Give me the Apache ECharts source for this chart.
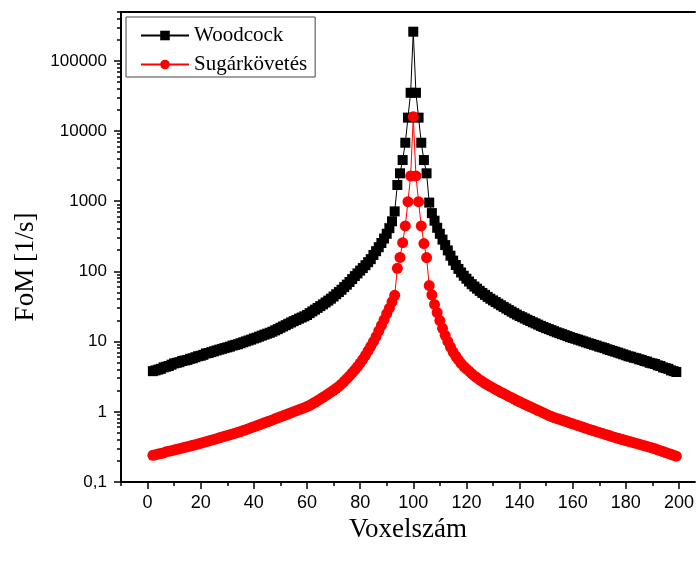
<!DOCTYPE html>
<html>
<head>
<meta charset="utf-8">
<script src="https://cdn.jsdelivr.net/npm/echarts@6/dist/echarts.min.js"></script>
<style>
  html, body { margin: 0; padding: 0; background: #fff; }
  #chart { width: 697px; height: 561px; }
</style>
</head>
<body>
<div id="chart"></div>
<script>
// Voxel indices along the line of voxels
const voxel = Array.from({ length: 198 }, (_, i) => i + 2);

// Figure of merit per voxel, Woodcock tracking
const woodcock = [
  3.8, 3.9, 4.0, 4.1, 4.3, 4.4, 4.5, 4.7, 4.9, 5.0,
  5.1, 5.3, 5.4, 5.5, 5.7, 5.8, 6.0, 6.2, 6.3, 6.5,
  6.8, 6.9, 7.1, 7.3, 7.5, 7.7, 7.9, 8.1, 8.3, 8.5,
  8.8, 9.0, 9.2, 9.5, 9.8, 10.1, 10.4, 10.7, 11.1, 11.4,
  11.8, 12.2, 12.6, 13.0, 13.4, 13.9, 14.5, 15.1, 15.8, 16.5,
  17.2, 18.0, 18.8, 19.6, 20.4, 21.3, 22.1, 23.0, 24.0, 25.5,
  27.0, 28.6, 30.3, 32.1, 34.0, 36.2, 38.5, 41.0, 44.0, 47.5,
  51, 55, 60, 65, 71, 78, 86, 94, 103, 112,
  123, 136, 150, 172, 195, 222, 255, 295, 345, 415,
  520, 720, 1710, 2510, 3880, 6850, 15600, 35300, 262000, 35300,
  15600, 6850, 3880, 2510, 960, 680, 530, 420, 345, 285,
  238, 200, 168, 143, 124, 109, 97, 87, 79, 72,
  66, 61, 57, 53, 49.5, 46.5, 43.5, 41, 38.8, 36.7,
  34.8, 33, 31.3, 29.7, 28.2, 26.8, 25.5, 24.3, 23.2, 22.3,
  21.4, 20.5, 19.7, 18.9, 18.2, 17.5, 16.8, 16.2, 15.6, 15.1,
  14.6, 14.1, 13.6, 13.2, 12.8, 12.4, 12.0, 11.6, 11.3, 11.0,
  10.7, 10.4, 10.1, 9.8, 9.5, 9.3, 9.0, 8.8, 8.5, 8.3,
  8.1, 7.8, 7.6, 7.4, 7.2, 7.0, 6.8, 6.6, 6.4, 6.2,
  6.1, 5.9, 5.8, 5.6, 5.5, 5.3, 5.2, 5.0, 4.9, 4.8,
  4.6, 4.5, 4.3, 4.2, 4.1, 3.9, 3.8, 3.7
];

// Figure of merit per voxel, ray tracing
const sugarkovetes = [
  0.240, 0.245, 0.250, 0.255, 0.260, 0.270, 0.275, 0.280, 0.286, 0.292,
  0.298, 0.305, 0.312, 0.319, 0.326, 0.333, 0.340, 0.348, 0.357, 0.366,
  0.375, 0.385, 0.395, 0.405, 0.415, 0.426, 0.437, 0.448, 0.460, 0.472,
  0.484, 0.497, 0.510, 0.523, 0.540, 0.557, 0.575, 0.594, 0.613, 0.633,
  0.654, 0.675, 0.697, 0.720, 0.743, 0.768, 0.794, 0.821, 0.849, 0.878,
  0.908, 0.939, 0.971, 1.004, 1.038, 1.073, 1.11, 1.148, 1.187, 1.24,
  1.30, 1.37, 1.44, 1.52, 1.61, 1.70, 1.80, 1.91, 2.03, 2.16,
  2.30, 2.50, 2.72, 2.97, 3.25, 3.58, 3.95, 4.40, 4.95, 5.6,
  6.4, 7.4, 8.6, 10.0, 11.8, 14.2, 17.0, 20.5, 25, 30,
  37, 45.8, 111, 159, 258, 446, 990, 2300, 16100, 2300,
  990, 446, 250, 158, 63, 46.5, 34, 26, 20, 15.5,
  12.3, 10.1, 8.4, 7.1, 6.2, 5.5, 4.9, 4.45, 4.1, 3.8,
  3.5, 3.25, 3.05, 2.85, 2.7, 2.55, 2.42, 2.3, 2.19, 2.09,
  1.99, 1.9, 1.82, 1.74, 1.66, 1.59, 1.52, 1.45, 1.39, 1.335,
  1.28, 1.23, 1.18, 1.135, 1.09, 1.045, 1.005, 0.965, 0.925, 0.89,
  0.855, 0.83, 0.806, 0.783, 0.76, 0.738, 0.717, 0.696, 0.676, 0.656,
  0.637, 0.619, 0.601, 0.583, 0.567, 0.552, 0.537, 0.522, 0.508, 0.494,
  0.481, 0.468, 0.455, 0.443, 0.431, 0.42, 0.41, 0.40, 0.39, 0.381,
  0.372, 0.363, 0.354, 0.346, 0.337, 0.329, 0.321, 0.314, 0.306, 0.297,
  0.288, 0.28, 0.271, 0.263, 0.255, 0.248, 0.24, 0.233
];

// Axis ticks
const xLabelValues = [0, 20, 40, 60, 80, 100, 120, 140, 160, 180, 200];
const xMinorValues = [-10, 10, 30, 50, 70, 90, 110, 130, 150, 170, 190];
const yDecades = [0.1, 1, 10, 100, 1000, 10000, 100000];
const yMinorValues = [];
yDecades.forEach(d => {
  for (let k = 2; k <= 9; k++) {
    const v = k * d;
    if (v <= 5e5) yMinorValues.push(v);
  }
});

const X_MIN = -10, X_MAX = 206, Y_MIN = 0.1, Y_MAX = 5e5;
const SANS = "'Liberation Sans', Arial, sans-serif";
const SERIF = "'Liberation Serif', 'Times New Roman', serif";

const toPairs = vals => voxel.map((x, i) => [x, vals[i]]);

const chart = echarts.init(document.getElementById('chart'), null, { renderer: 'canvas' });

chart.setOption({
  animation: false,
  backgroundColor: '#fff',
  grid: { left: 121, top: 12, right: 0, bottom: 79, containLabel: false },
  legend: {
    orient: 'vertical',
    left: 126,
    top: 17,
    itemWidth: 48,
    itemHeight: 12,
    itemGap: 8,
    padding: [8, 8, 2, 14],
    borderColor: '#444',
    borderWidth: 1,
    backgroundColor: '#fff',
    selectedMode: false,
    textStyle: { fontFamily: SERIF, fontSize: 21, color: '#000' },
    data: ['Woodcock', 'Sugárkövetés']
  },
  xAxis: [
    {
      type: 'value', min: X_MIN, max: X_MAX, position: 'bottom',
      axisLine: { show: true, onZero: false, lineStyle: { color: '#000', width: 2 } },
      axisTick: { show: true, customValues: xLabelValues, length: 7, lineStyle: { color: '#000', width: 1.5 } },
      axisLabel: { customValues: xLabelValues, fontFamily: SANS, fontSize: 18, color: '#000', margin: 12 },
      splitLine: { show: false },
      name: 'Voxelszám', nameLocation: 'middle', nameGap: 22,
      nameTextStyle: { fontFamily: SERIF, fontSize: 27, color: '#000' }
    },
    {
      type: 'value', min: X_MIN, max: X_MAX, position: 'bottom',
      axisLine: { show: false },
      axisTick: { show: true, customValues: xMinorValues, length: 4, lineStyle: { color: '#000', width: 1.5 } },
      axisLabel: { show: false },
      splitLine: { show: false }
    },
    {
      type: 'value', min: X_MIN, max: X_MAX, position: 'top',
      axisLine: { show: true, onZero: false, lineStyle: { color: '#000', width: 2 } },
      axisTick: { show: false },
      axisLabel: { show: false },
      splitLine: { show: false }
    }
  ],
  yAxis: [
    {
      type: 'log', logBase: 10, min: Y_MIN, max: Y_MAX,
      axisLine: { show: true, onZero: false, lineStyle: { color: '#000', width: 2 } },
      axisTick: { show: false },
      minorTick: { show: false },
      axisLabel: {
        fontFamily: SANS, fontSize: 17, color: '#000', margin: 14,
        formatter: v => {
          const l = Math.log10(v);
          if (Math.abs(l - Math.round(l)) > 1e-6) return '';
          if (v < 0.5) return '0,1';
          return String(Math.round(v));
        }
      },
      splitLine: { show: false },
      name: 'FoM [1/s]', nameLocation: 'middle', nameGap: 80, nameRotate: 90,
      nameTextStyle: { fontFamily: SERIF, fontSize: 27, color: '#000', padding: [0, 40, 0, 0] }
    }
  ],
  series: [
    {
      name: 'Woodcock', type: 'line', xAxisIndex: 0, yAxisIndex: 0,
      data: toPairs(woodcock),
      symbol: 'rect', symbolSize: 10, showSymbol: true,
      lineStyle: { color: '#000', width: 1 },
      itemStyle: { color: '#000' },
      emphasis: { disabled: true }, silent: true, z: 2
    },
    {
      name: 'Sugárkövetés', type: 'line', xAxisIndex: 0, yAxisIndex: 0,
      data: toPairs(sugarkovetes),
      symbol: 'circle', symbolSize: 11, showSymbol: true,
      lineStyle: { color: '#ff0000', width: 1 },
      itemStyle: { color: '#ff0000' },
      emphasis: { disabled: true }, silent: true, z: 3
    }
  ]
});

// Log-axis tick marks (decades and the 2..9 subdivisions), placed through the axis scale
const axisX = chart.convertToPixel({ xAxisIndex: 0 }, X_MIN);
const tickEls = [];
yDecades.forEach(v => {
  const y = Math.round(chart.convertToPixel({ yAxisIndex: 0 }, v));
  tickEls.push({ type: 'line', silent: true, shape: { x1: axisX - 7, y1: y, x2: axisX, y2: y }, style: { stroke: '#000', lineWidth: 1.5 } });
});
yMinorValues.forEach(v => {
  const y = Math.round(chart.convertToPixel({ yAxisIndex: 0 }, v));
  tickEls.push({ type: 'line', silent: true, shape: { x1: axisX - 4, y1: y, x2: axisX, y2: y }, style: { stroke: '#000', lineWidth: 1.5 } });
});
chart.setOption({ graphic: tickEls });
</script>
</body>
</html>
